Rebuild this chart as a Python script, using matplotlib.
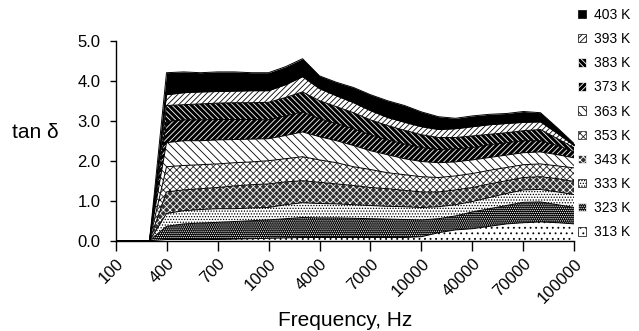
"""
Stacked hatched area chart of tan delta vs frequency for 313-403 K.
"""
import numpy as np
import matplotlib
matplotlib.use('Agg')
import matplotlib.pyplot as plt
from matplotlib.patches import Patch

plt.rcParams['font.family'] = ['Liberation Sans', 'DejaVu Sans']
plt.rcParams['hatch.linewidth'] = 0.6

# Frequency points (Hz); only every third one is labelled on the axis
freqs = [100, 200, 300, 400, 500, 600, 700, 800, 900, 1000,
         2000, 3000, 4000, 5000, 6000, 7000, 8000, 9000, 10000,
         20000, 30000, 40000, 50000, 60000, 70000, 80000, 90000, 100000]
tick_labels = ['100', '400', '700', '1000', '4000', '7000', '10000',
               '40000', '70000', '100000']

temps = ['313 K', '323 K', '333 K', '343 K', '353 K',
         '363 K', '373 K', '383 K', '393 K', '403 K']

# tan delta contribution of each temperature (stacked, bottom to top)
t313 = [0, 0, 0, 0.03, 0.03, 0.03, 0.03, 0.04, 0.05, 0.06, 0.07, 0.08, 0.08, 0.08,
        0.08, 0.08, 0.08, 0.08, 0.10, 0.20, 0.27, 0.30, 0.36, 0.42, 0.45, 0.47, 0.45, 0.42]
t323 = [0, 0, 0, 0.33, 0.39, 0.41, 0.43, 0.44, 0.45, 0.46, 0.48, 0.50, 0.49, 0.49,
        0.48, 0.47, 0.46, 0.45, 0.42, 0.35, 0.35, 0.42, 0.44, 0.46, 0.51, 0.50, 0.45, 0.41]
t333 = [0, 0, 0, 0.32, 0.33, 0.34, 0.34, 0.32, 0.32, 0.31, 0.35, 0.37, 0.36, 0.35,
        0.34, 0.33, 0.32, 0.32, 0.31, 0.30, 0.28, 0.26, 0.28, 0.30, 0.31, 0.31, 0.32, 0.32]
t343 = [0, 0, 0, 0.54, 0.52, 0.52, 0.53, 0.57, 0.58, 0.59, 0.57, 0.55, 0.53, 0.50,
        0.48, 0.45, 0.44, 0.41, 0.39, 0.37, 0.37, 0.35, 0.34, 0.32, 0.31, 0.32, 0.33, 0.33]
t353 = [0, 0, 0, 0.63, 0.61, 0.60, 0.59, 0.58, 0.57, 0.58, 0.58, 0.60, 0.56, 0.53,
        0.47, 0.45, 0.40, 0.39, 0.38, 0.36, 0.35, 0.35, 0.34, 0.33, 0.32, 0.32, 0.32, 0.34]
t363 = [0, 0, 0, 0.60, 0.62, 0.60, 0.60, 0.58, 0.57, 0.55, 0.58, 0.62, 0.58, 0.55,
        0.53, 0.47, 0.45, 0.40, 0.38, 0.37, 0.35, 0.34, 0.32, 0.31, 0.30, 0.30, 0.28, 0.25]
t373 = [0, 0, 0, 0.53, 0.52, 0.52, 0.51, 0.50, 0.49, 0.47, 0.49, 0.50, 0.45, 0.43,
        0.42, 0.40, 0.37, 0.37, 0.35, 0.33, 0.33, 0.31, 0.32, 0.31, 0.30, 0.28, 0.23, 0.15]
t383 = [0, 0, 0, 0.40, 0.38, 0.40, 0.41, 0.42, 0.42, 0.44, 0.46, 0.50, 0.45, 0.42,
        0.40, 0.37, 0.36, 0.34, 0.32, 0.30, 0.28, 0.29, 0.26, 0.25, 0.25, 0.28, 0.17, 0.10]
t393 = [0, 0, 0, 0.27, 0.30, 0.30, 0.29, 0.29, 0.30, 0.29, 0.32, 0.38, 0.30, 0.27,
        0.25, 0.23, 0.20, 0.20, 0.20, 0.20, 0.22, 0.23, 0.24, 0.23, 0.21, 0.19, 0.13, 0.05]
t403 = [0, 0, 0, 0.55, 0.52, 0.48, 0.49, 0.48, 0.45, 0.45, 0.45, 0.45, 0.32, 0.34,
        0.38, 0.40, 0.42, 0.42, 0.37, 0.32, 0.26, 0.27, 0.26, 0.25, 0.27, 0.23, 0.14, 0.05]

series = [t313, t323, t333, t343, t353, t363, t373, t383, t393, t403]

# (face, hatch colour, hatch) per layer, bottom to top
styles = [
    ('white', 'black', '...'),
    ('black', 'white', '........'),
    ('white', 'black', '......'),
    ('#303030', 'white', 'xxxxx'),
    ('white', '#202020', 'xxxxx'),
    ('white', 'black', '\\\\\\\\'),
    ('black', 'white', '//////'),
    ('black', 'white', '\\\\\\\\\\\\'),
    ('white', 'black', '//////'),
    ('black', 'black', None),
]

x = np.arange(len(freqs))

fig = plt.figure(figsize=(6.39, 3.31), dpi=100)
ax = fig.add_axes([0.1808, 0.2728, 0.899 - 0.1808, 0.877 - 0.2728])

base = np.zeros(len(freqs))
for vals, (fc, hc, hatch) in zip(series, styles):
    top = base + np.array(vals)
    ax.fill_between(x, base, top, facecolor=fc, edgecolor=hc, hatch=hatch, linewidth=0)
    ax.plot(x, top, color='black', lw=0.7)
    base = top
ax.plot([x[-1], x[-1]], [0, base[-1]], color='black', lw=0.7)

ax.set_xlim(0, len(freqs) - 1)
ax.set_ylim(0, 5)
ax.set_yticks(np.arange(0, 5.01, 1.0))
ax.set_yticklabels([f'{v:.1f}' for v in np.arange(0, 5.01, 1.0)], fontsize=12)
ax.set_xticks(x[::3])
ax.set_xticklabels(tick_labels, fontsize=12, rotation=45, ha='right',
                   rotation_mode='anchor')
ax.tick_params(axis='y', direction='out', length=4, width=1, pad=7)
ax.tick_params(axis='x', direction='out', length=7, width=1, pad=4)
for side in ['top', 'right']:
    ax.spines[side].set_visible(False)
for side in ['left', 'bottom']:
    ax.spines[side].set_linewidth(1)

fig.text(12 / 639, 1 - 133 / 331, 'tan δ', fontsize=15, ha='left', va='center')
fig.text(345 / 639, 1 - 320 / 331, 'Frequency, Hz', fontsize=15, ha='center', va='center')

handles = [Patch(facecolor=fc, edgecolor=hc, hatch=hatch, linewidth=0.5)
           for fc, hc, hatch in styles]
leg = fig.legend(handles[::-1], temps[::-1], loc='upper left',
                 bbox_to_anchor=(578 / 639, 1 - 8 / 331), frameon=False,
                 fontsize=10, handlelength=0.55, handleheight=0.55,
                 handletextpad=0.6, labelspacing=0.73, borderpad=0, borderaxespad=0)

fig.savefig('out.png', dpi=100)
